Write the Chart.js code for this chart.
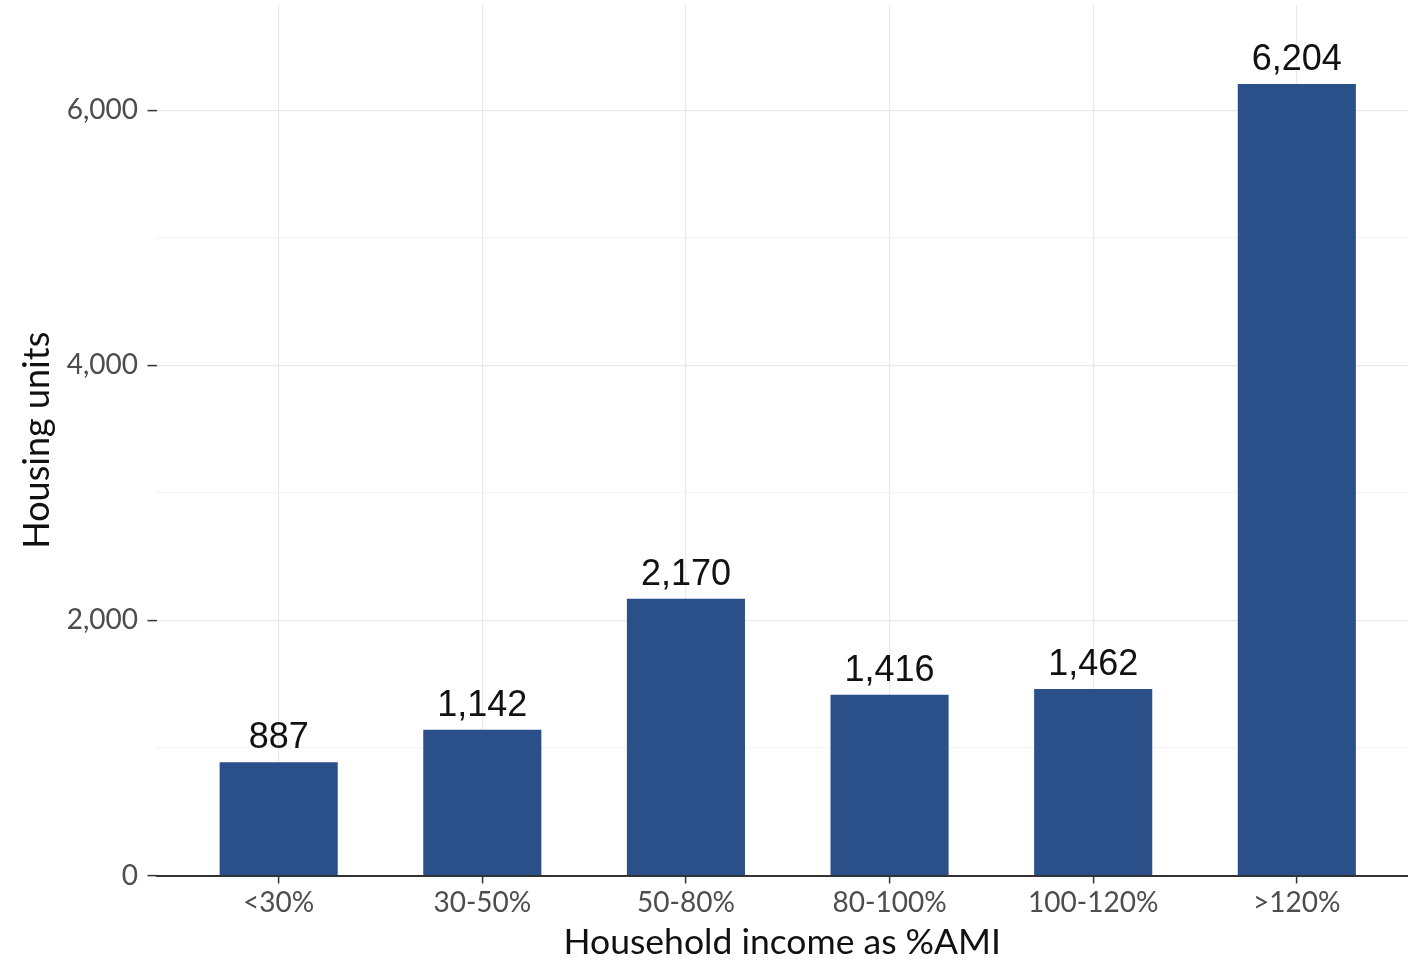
<!DOCTYPE html>
<html>
<head>
<meta charset="utf-8">
<script src="https://cdn.jsdelivr.net/npm/chart.js@4/dist/chart.umd.min.js"></script>
<style>
  body { margin: 0; background: #fff; overflow: hidden; }
</style>
</head>
<body>
<canvas id="chart" width="1408" height="960"></canvas>
<script>
const categorias = ['<30%', '30-50%', '50-80%', '80-100%', '100-120%', '>120%'];
const unidades = [887, 1142, 2170, 1416, 1462, 6204];
const ticksMayores = [0, 2000, 4000, 6000];
const ticksMenores = [1000, 3000, 5000];

const azul = '#2b4f89';
const gris_grid = '#e9e9e9';
const gris_menor = '#f4f4f4';
const oscuro = '#333333';

// etiquetas de valor encima de cada barra
const etiquetas = {
    id: 'etiquetas',
    afterDatasetsDraw(chart) {
        const ctx = chart.ctx;
        const meta = chart.getDatasetMeta(0);
        ctx.save();
        ctx.font = '36px "Liberation Sans", Arial, sans-serif';
        ctx.fillStyle = '#111';
        ctx.textAlign = 'center';
        ctx.textBaseline = 'alphabetic';
        meta.data.forEach((bar, i) => {
            ctx.fillText(unidades[i].toLocaleString('en-US'), bar.x, bar.y - 14);
        });
        ctx.restore();
    }
};

var ctx = document.getElementById('chart').getContext('2d');

var chart = new Chart(ctx, {
    type: 'bar',
    data: {
        datasets: [{
            data: unidades.map((v, i) => ({x: i, y: v})),
            backgroundColor: azul,
            barPercentage: 0.58,
            categoryPercentage: 1
        }]
    },
    options: {
        responsive: false,
        animation: false,
        layout: { padding: { top: 5, left: 0, right: 0, bottom: 0 } },
        plugins: {
            legend: { display: false },
            tooltip: { enabled: false }
        },
        scales: {
            x: {
                type: 'linear',
                min: -0.6,
                max: 5.546,
                offset: false,
                afterBuildTicks: scale => { scale.ticks = categorias.map((c, i) => ({value: i})); },
                afterFit: scale => {
                    scale.height = 84.5;
                    scale.paddingLeft = 0;
                    scale.paddingRight = 0;
                },
                grid: { offset: false, color: gris_grid, lineWidth: 1.2, tickLength: 8, tickColor: oscuro, tickWidth: 1.5 },
                border: { display: true, color: oscuro, width: 2, z: 1 },
                ticks: {
                    autoSkip: false,
                    maxRotation: 0,
                    padding: 3,
                    color: '#4d4d4d',
                    font: { family: 'Lato', size: 28 },
                    callback: v => categorias[v]
                },
                title: {
                    display: true,
                    text: 'Household income as %AMI',
                    color: '#111',
                    font: { family: 'Lato', size: 35.5, lineHeight: 1 },
                    padding: { top: 0, bottom: 0 }
                }
            },
            y: {
                min: 0,
                max: 6824,
                afterBuildTicks: scale => {
                    scale.ticks = ticksMayores.concat(ticksMenores).sort((a, b) => a - b).map(v => ({value: v}));
                },
                afterFit: scale => {
                    scale.width = 156.5;
                    scale.paddingTop = 0;
                    scale.paddingBottom = 0;
                },
                grid: {
                    color: c => c.tick.value === 0 ? 'rgba(0,0,0,0)' : (ticksMayores.includes(c.tick.value) ? gris_grid : gris_menor),
                    tickColor: c => ticksMayores.includes(c.tick.value) ? oscuro : 'rgba(0,0,0,0)',
                    lineWidth: 1.2,
                    tickLength: 9,
                    tickWidth: 1.5
                },
                border: { display: false },
                ticks: {
                    padding: 9.5,
                    color: '#4d4d4d',
                    font: { family: 'Lato', size: 28 },
                    callback: v => ticksMayores.includes(v) ? v.toLocaleString('en-US') : ''
                },
                title: {
                    display: true,
                    text: 'Housing units',
                    color: '#111',
                    font: { family: 'Lato', size: 36 },
                    padding: { top: 16, bottom: 0 }
                }
            }
        }
    },
    plugins: [etiquetas]
});
</script>
</body>
</html>
